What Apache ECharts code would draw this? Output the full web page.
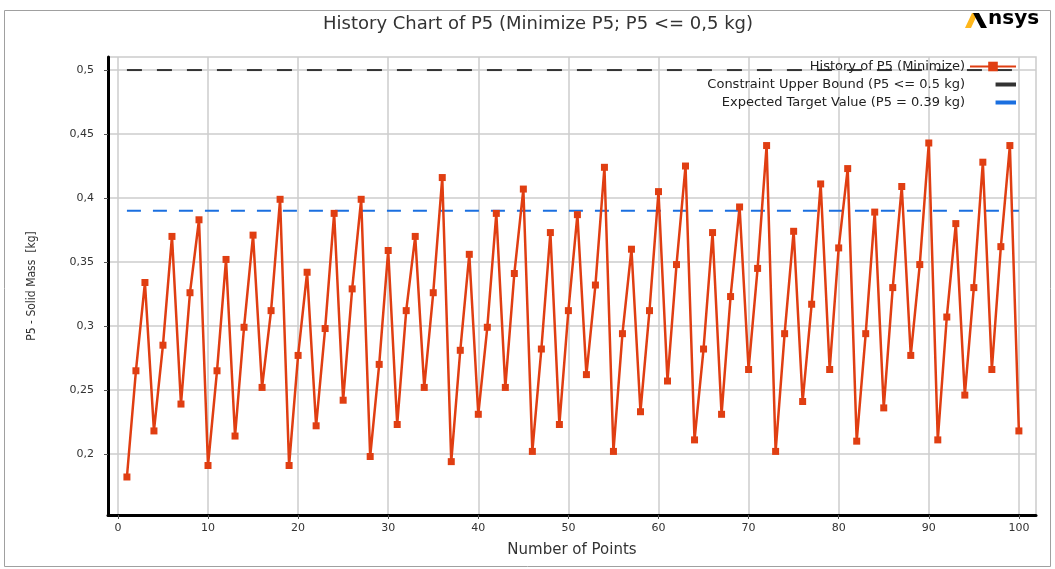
<!DOCTYPE html>
<html>
<head>
<meta charset="utf-8">
<title>History Chart of P5</title>
<script src="https://cdn.jsdelivr.net/npm/echarts@6/dist/echarts.min.js"></script>
<style>
  html, body { margin: 0; padding: 0; background: #fff; }
  #chartBox { width: 1055px; height: 569px; }
</style>
</head>
<body>
<div id="chartBox"></div>
<script>
// history of P5 (solid mass, kg), one value per design point
var p5History = [
  0.182, 0.265, 0.334, 0.218, 0.285, 0.370, 0.239, 0.326, 0.383, 0.191,
  0.265, 0.352, 0.214, 0.299, 0.371, 0.252, 0.312, 0.399, 0.191, 0.277,
  0.342, 0.222, 0.298, 0.388, 0.242, 0.329, 0.399, 0.198, 0.270, 0.359,
  0.223, 0.312, 0.370, 0.252, 0.326, 0.416, 0.194, 0.281, 0.356, 0.231,
  0.299, 0.388, 0.252, 0.341, 0.407, 0.202, 0.282, 0.373, 0.223, 0.312,
  0.387, 0.262, 0.332, 0.424, 0.202, 0.294, 0.360, 0.233, 0.312, 0.405,
  0.257, 0.348, 0.425, 0.211, 0.282, 0.373, 0.231, 0.323, 0.393, 0.266,
  0.345, 0.441, 0.202, 0.294, 0.374, 0.241, 0.317, 0.411, 0.266, 0.361,
  0.423, 0.210, 0.294, 0.389, 0.236, 0.330, 0.409, 0.277, 0.348, 0.443,
  0.211, 0.307, 0.380, 0.246, 0.330, 0.428, 0.266, 0.362, 0.441, 0.218
];
var pointNumbers = p5History.map(function (v, i) { return i + 1; });
var upperBound = 0.5;
var targetValue = 0.39;
var seriesNames = [
  'History of P5 (Minimize)',
  'Constraint Upper Bound (P5 <= 0.5 kg)',
  'Expected Target Value (P5 = 0.39 kg)'
];
var xTicks = [0, 10, 20, 30, 40, 50, 60, 70, 80, 90, 100];
var yTicks = [0.2, 0.25, 0.3, 0.35, 0.4, 0.45, 0.5];

var historyData = pointNumbers.map(function (x, i) { return [x, p5History[i]]; });
var firstPt = pointNumbers[0], lastPt = pointNumbers[pointNumbers.length - 1];
// short bar on the right side of the legend icon box
var shortBar = 'path://M0,0 L0.2,0 L0.2,0.02 Z M25,0 L45,0 L45,4 L25,4 Z';

var chart = echarts.init(document.getElementById('chartBox'));
var option = {
  animation: false,
  backgroundColor: '#fff',
  title: {
    text: 'History Chart of P5 (Minimize P5; P5 <= 0,5 kg)',
    left: 533, top: 10, textAlign: 'center',
    textStyle: { fontFamily: 'DejaVu Sans', fontSize: 18, fontWeight: 'normal', color: '#333' }
  },
  graphic: [
    { type: 'rect', shape: { x: 4.5, y: 10.5, width: 1046, height: 556 },
      style: { fill: 'none', stroke: '#a0a0a0', lineWidth: 1 }, silent: true },
    // Ansys logo
    { type: 'polygon', shape: { points: [[965, 28], [971, 28], [978, 13], [972, 13]] },
      style: { fill: '#ffb71b' }, silent: true },
    { type: 'polygon', shape: { points: [[973, 13], [979, 13], [987, 28], [981, 28]] },
      style: { fill: '#000' }, silent: true },
    { type: 'text', left: 988, top: 9,
      style: { text: 'nsys', fill: '#000', font: 'bold 20px "DejaVu Sans"' } }
  ],
  legend: {
    data: [
      { name: seriesNames[0] },
      { name: seriesNames[1], icon: shortBar },
      { name: seriesNames[2], icon: shortBar }
    ],
    orient: 'vertical',
    right: 33, top: 55,
    align: 'right',
    itemWidth: 46, itemHeight: 12, itemGap: 5,
    textStyle: { fontFamily: 'DejaVu Sans', fontSize: 13, color: '#222' }
  },
  grid: { left: 108, top: 57, right: 19, bottom: 54, show: true,
    borderColor: '#cccccc', borderWidth: 1.5 },
  xAxis: {
    type: 'value',
    min: -1.1, max: 101.9,
    name: 'Number of Points', nameLocation: 'middle', nameGap: 28,
    nameTextStyle: { fontFamily: 'DejaVu Sans', fontSize: 15, color: '#333' },
    axisLine: { onZero: false, lineStyle: { color: '#000', width: 3 } },
    axisTick: { show: true, length: 4, customValues: xTicks, lineStyle: { color: '#555' } },
    axisLabel: { customValues: xTicks, margin: 8,
      fontFamily: 'DejaVu Sans', fontSize: 11, color: '#333' },
    splitLine: { show: true, lineStyle: { color: '#cccccc', width: 1.5 } }
  },
  yAxis: {
    type: 'value',
    min: 0.1523, max: 0.5102,
    name: 'P5 - Solid Mass  [kg]', nameLocation: 'middle', nameGap: 70,
    nameTextStyle: { fontFamily: 'DejaVu Sans Condensed', fontSize: 12, color: '#333' },
    axisLine: { show: true, onZero: false, lineStyle: { color: '#000', width: 3 } },
    axisTick: { show: true, length: 4, customValues: yTicks, lineStyle: { color: '#555' } },
    axisLabel: { customValues: yTicks, margin: 14,
      fontFamily: 'DejaVu Sans', fontSize: 11, color: '#333',
      formatter: function (v) { return String(+v.toFixed(2)).replace('.', ','); } },
    splitLine: { show: true, lineStyle: { color: '#cccccc', width: 1.5 } }
  },
  series: [
    {
      name: seriesNames[0], type: 'line', data: historyData,
      color: '#e03e12',
      symbol: 'rect', symbolSize: 7,
      lineStyle: { width: 2.5, color: '#e03e12' },
      itemStyle: { color: '#e03e12' },
      z: 3
    },
    {
      name: seriesNames[1], type: 'line',
      data: [[firstPt, upperBound], [lastPt, upperBound]],
      color: '#333',
      symbol: 'none',
      lineStyle: { width: 2, color: '#333', type: [15, 15] },
      z: 2
    },
    {
      name: seriesNames[2], type: 'line',
      data: [[firstPt, targetValue], [lastPt, targetValue]],
      color: '#1a6fe0',
      symbol: 'none',
      lineStyle: { width: 2, color: '#1a6fe0', type: [14, 12] },
      z: 2
    }
  ]
};
chart.setOption(option);
</script>
</body>
</html>
